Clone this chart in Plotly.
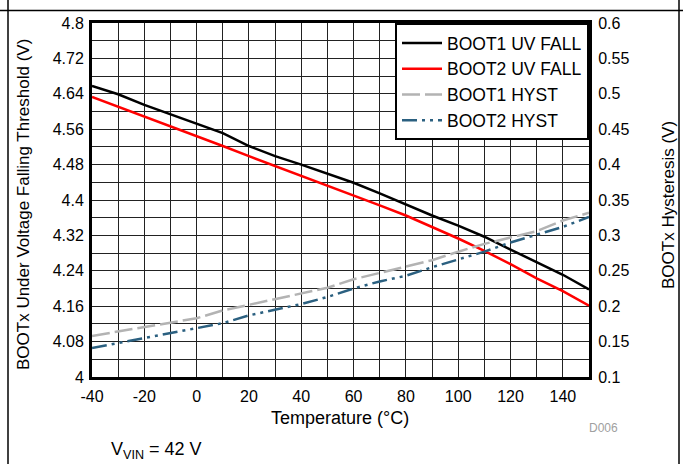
import plotly.graph_objects as go

temperature = [-40, -30, -20, -10, 0, 10, 20, 30, 40, 50, 60, 70, 80, 90, 100, 110, 120, 130, 140, 150]
boot1_uv_fall = [4.658, 4.639, 4.615, 4.594, 4.573, 4.551, 4.522, 4.499, 4.480, 4.459,
                 4.439, 4.415, 4.390, 4.365, 4.342, 4.317, 4.288, 4.259, 4.231, 4.198]
boot2_uv_fall = [4.633, 4.611, 4.589, 4.566, 4.544, 4.522, 4.499, 4.477, 4.455, 4.432,
                 4.411, 4.388, 4.365, 4.339, 4.313, 4.285, 4.255, 4.223, 4.194, 4.161]
boot1_hyst = [0.158, 0.164, 0.170, 0.176, 0.183, 0.194, 0.202, 0.210, 0.218, 0.226,
              0.238, 0.247, 0.255, 0.265, 0.277, 0.288, 0.297, 0.306, 0.321, 0.332]
boot2_hyst = [0.141, 0.148, 0.155, 0.162, 0.169, 0.176, 0.187, 0.195, 0.203, 0.213,
              0.225, 0.235, 0.243, 0.255, 0.266, 0.277, 0.290, 0.301, 0.312, 0.326]

x_ticks = [-40, -20, 0, 20, 40, 60, 80, 100, 120, 140]
x_labels = ["-40", "-20", "0", "20", "40", "60", "80", "100", "120", "140"]
left_ticks = [4.0, 4.08, 4.16, 4.24, 4.32, 4.4, 4.48, 4.56, 4.64, 4.72, 4.8]
left_labels = ["4", "4.08", "4.16", "4.24", "4.32", "4.4", "4.48", "4.56", "4.64", "4.72", "4.8"]
right_ticks = [0.1, 0.15, 0.2, 0.25, 0.3, 0.35, 0.4, 0.45, 0.5, 0.55, 0.6]
right_labels = ["0.1", "0.15", "0.2", "0.25", "0.3", "0.35", "0.4", "0.45", "0.5", "0.55", "0.6"]

FONT = "Arial, Liberation Sans, sans-serif"
W, H = 683, 464
L, R, T, B = 92, 94, 23, 87
pw, ph = W - L - R, H - T - B


def px(xp):
    return (xp - L) / pw


def py(yp):
    return (H - B - yp) / ph


fig = go.Figure()
fig.add_trace(go.Scatter(x=temperature, y=boot1_uv_fall, name="BOOT1 UV FALL", mode="lines",
                         line=dict(color="black", width=2.5)))
fig.add_trace(go.Scatter(x=temperature, y=boot2_uv_fall, name="BOOT2 UV FALL", mode="lines",
                         line=dict(color="#ff0000", width=2.5)))
fig.add_trace(go.Scatter(x=temperature, y=boot1_hyst, name="BOOT1 HYST", mode="lines", yaxis="y2",
                         line=dict(color="#b3b3b3", width=2.5, dash="18px,5px")))
fig.add_trace(go.Scatter(x=temperature, y=boot2_hyst, name="BOOT2 HYST", mode="lines", yaxis="y2",
                         line=dict(color="#2b6080", width=2.5, dash="15px,5px,3px,5px,3px,5px")))

grid = dict(showgrid=True, gridcolor="#222", gridwidth=1)
fig.update_layout(
    width=W, height=H,
    margin=dict(l=L, r=R, t=T, b=B),
    paper_bgcolor="white", plot_bgcolor="white",
    font=dict(family=FONT, size=16, color="black"),
    showlegend=True,
    legend=dict(x=1, y=1, xanchor="right", yanchor="top", bgcolor="white",
                bordercolor="black", borderwidth=2, font=dict(size=17.5),
                tracegroupgap=0, itemwidth=40),
    xaxis=dict(range=[-40, 150], tickvals=x_ticks, ticktext=x_labels, ticks="", ticklabelstandoff=3,
               minor=dict(dtick=10, tick0=-40, showgrid=True, gridcolor="#222", gridwidth=1),
               showline=True, linecolor="black", linewidth=3, mirror=True, zeroline=False, **grid),
    yaxis=dict(range=[4.0, 4.8], tickvals=left_ticks, ticktext=left_labels, ticks="",
               ticklabelstandoff=2,
               minor=dict(dtick=0.04, tick0=4.0, showgrid=True, gridcolor="#222", gridwidth=1),
               showline=True, linecolor="black", linewidth=3, mirror=True, zeroline=False, **grid),
    yaxis2=dict(range=[0.1, 0.6], tickvals=right_ticks, ticktext=right_labels, ticks="",
                ticklabelstandoff=3,
                overlaying="y", side="right", showgrid=False, zeroline=False,
                showline=True, linecolor="black", linewidth=3),
)

annotations = [
    dict(text="Temperature (°C)", x=px(340), y=py(418), xref="paper", yref="paper",
         showarrow=False, xanchor="center", yanchor="middle", font=dict(size=18)),
    dict(text="BOOTx Under Voltage Falling Threshold (V)", x=px(23), y=py(205), xref="paper",
         yref="paper", showarrow=False, textangle=-90, xanchor="center", yanchor="middle",
         font=dict(size=17)),
    dict(text="BOOTx Hysteresis (V)", x=px(668), y=py(205), xref="paper", yref="paper",
         showarrow=False, textangle=-90, xanchor="center", yanchor="middle", font=dict(size=17)),
    dict(text="D006", x=px(603), y=py(428), xref="paper", yref="paper", showarrow=False,
         xanchor="center", yanchor="middle", font=dict(size=12, color="#a0a0a0")),
    dict(text="V<sub>VIN</sub> = 42 V", x=px(109), y=py(450), xref="paper", yref="paper",
         showarrow=False, xanchor="left", yanchor="middle", font=dict(size=18)),
]
fig.update_layout(annotations=annotations)

shapes = [
    dict(type="line", xref="paper", yref="paper", x0=px(8), x1=px(8), y0=py(0), y1=py(464),
         line=dict(color="black", width=1.5)),
    dict(type="line", xref="paper", yref="paper", x0=px(679), x1=px(679), y0=py(0), y1=py(464),
         line=dict(color="black", width=1.5)),
    dict(type="line", xref="paper", yref="paper", x0=px(0), x1=px(683), y0=py(10.5), y1=py(10.5),
         line=dict(color="black", width=1.5)),
]
fig.update_layout(shapes=shapes)

fig.write_html("out.html", config={"displayModeBar": False},
               post_script="document.body.style.margin='0';document.body.style.overflow='hidden';")
